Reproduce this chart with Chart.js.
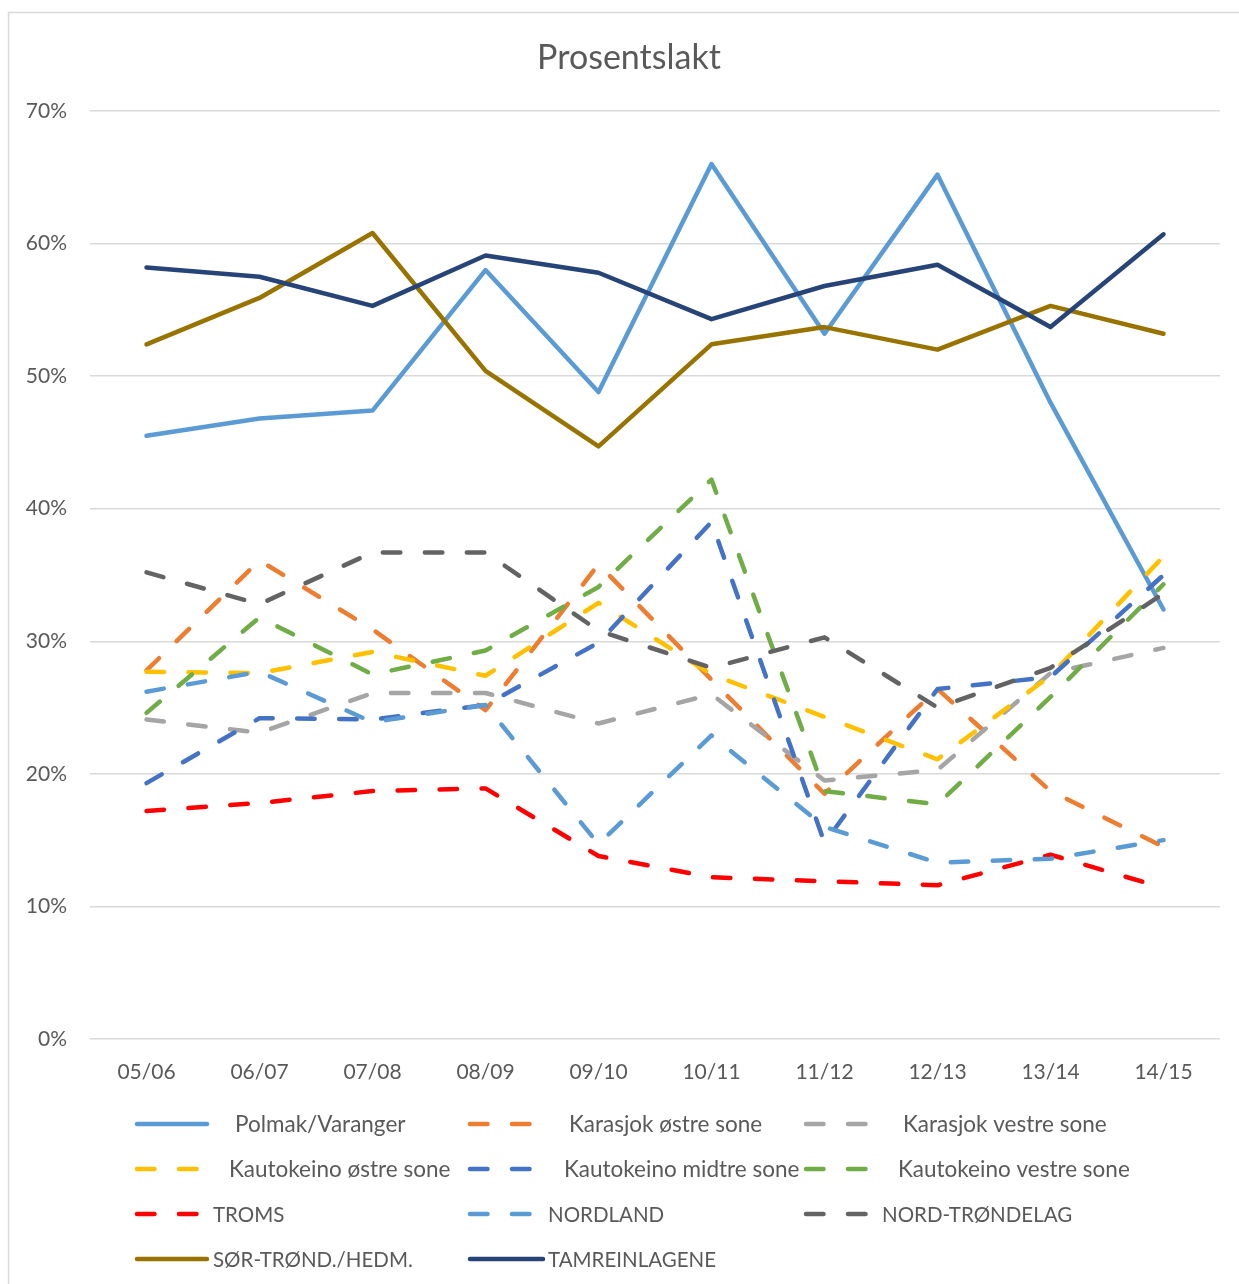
<!DOCTYPE html>
<html>
<head>
<meta charset="utf-8">
<script src="https://cdn.jsdelivr.net/npm/chart.js@4.4.1/dist/chart.umd.min.js"></script>
<style>
  html, body { margin: 0; padding: 0; background: #ffffff; }
  canvas { display: block; }
</style>
</head>
<body>
<canvas id="c" width="1239" height="1284"></canvas>
<script>
const categories = ['05/06','06/07','07/08','08/09','09/10','10/11','11/12','12/13','13/14','14/15'];
const polmakVaranger      = [45.5, 46.8, 47.4, 58.0, 48.8, 66.0, 53.2, 65.2, 48.0, 32.4];
const karasjokOstre       = [27.8, 36.1, 30.9, 24.8, 35.8, 27.1, 18.5, 26.4, 18.7, 14.5];
const karasjokVestre      = [24.1, 23.1, 26.1, 26.1, 23.8, 26.0, 19.5, 20.3, 27.6, 29.5];
const kautokeinoOstre     = [27.7, 27.6, 29.2, 27.4, 32.9, 27.5, 24.3, 21.1, 27.4, 36.4];
const kautokeinoMidtre    = [19.3, 24.2, 24.1, 25.2, 29.9, 39.0, 14.8, 26.4, 27.3, 35.0];
const kautokeinoVestre    = [24.6, 31.8, 27.5, 29.3, 34.1, 42.2, 18.7, 17.7, 25.8, 34.3];
const troms               = [17.2, 17.8, 18.7, 18.9, 13.8, 12.2, 11.9, 11.6, 13.9, 11.4];
const nordland            = [26.2, 27.7, 23.9, 25.2, 14.7, 22.9, 16.0, 13.3, 13.6, 15.0];
const nordTrondelag       = [35.2, 32.8, 36.7, 36.7, 30.8, 28.0, 30.3, 25.0, 28.0, 33.6];
const sorTrondHedm        = [52.4, 55.9, 60.8, 50.4, 44.7, 52.4, 53.7, 52.0, 55.3, 53.2];
const tamreinlagene       = [58.2, 57.5, 55.3, 59.1, 57.8, 54.3, 56.8, 58.4, 53.7, 60.7];
const yTicks = [0, 10, 20, 30, 40, 50, 60, 70];
const titleText = 'Prosentslakt';

const FONT = 'Lato, "Open Sans", sans-serif';
const TEXT = '#595959';
const DASH = [17.5, 24.5];

const seriesDefs = [
  { label: 'Polmak/Varanger', data: polmakVaranger, color: '#5B9BD5', dashed: false },
  { label: 'Karasjok østre sone', data: karasjokOstre, color: '#ED7D31', dashed: true },
  { label: 'Karasjok vestre sone', data: karasjokVestre, color: '#A5A5A5', dashed: true },
  { label: 'Kautokeino østre sone', data: kautokeinoOstre, color: '#FFC000', dashed: true },
  { label: 'Kautokeino midtre sone', data: kautokeinoMidtre, color: '#4472C4', dashed: true },
  { label: 'Kautokeino vestre sone', data: kautokeinoVestre, color: '#70AD47', dashed: true },
  { label: 'TROMS', data: troms, color: '#FF0000', dashed: true },
  { label: 'NORDLAND', data: nordland, color: '#5B9BD5', dashed: true },
  { label: 'NORD-TRØNDELAG', data: nordTrondelag, color: '#636363', dashed: true },
  { label: 'SØR-TRØND./HEDM.', data: sorTrondHedm, color: '#997300', dashed: false },
  { label: 'TAMREINLAGENE', data: tamreinlagene, color: '#264478', dashed: false }
];

// legend layout: [lineStart, lineEnd, textX, rowY, fontSize]
const legendPos = [
  [137, 207, 235, 1124, 22.5], [470, 540, 569, 1124, 22.5], [806, 870, 903, 1124, 22.5],
  [137, 207, 229, 1169, 22.5], [470, 540, 564, 1169, 22.5], [806, 870, 898, 1169, 22.5],
  [137, 203, 213, 1214, 20.5], [470, 537, 548, 1214, 20.5], [806, 870, 882, 1214, 20.5],
  [137, 207, 213, 1259, 20.5], [470, 543, 548, 1259, 20.5]
];

const datasets = seriesDefs.map((s, i) => ({
  label: s.label,
  data: s.data,
  borderColor: s.color,
  backgroundColor: s.color,
  borderWidth: 4.5,
  borderDash: s.dashed ? DASH : [],
  borderCapStyle: 'round',
  borderJoinStyle: 'round',
  pointRadius: 0,
  pointHoverRadius: 0,
  tension: 0,
  fill: false,
  order: seriesDefs.length - i
}));

const decorPlugin = {
  id: 'decor',
  beforeDraw(chart) {
    const ctx = chart.ctx;
    ctx.save();
    ctx.fillStyle = '#ffffff';
    ctx.fillRect(0, 0, chart.width, chart.height);
    ctx.strokeStyle = '#D9D9D9';
    ctx.lineWidth = 1.5;
    ctx.strokeRect(8.5, 12.5, chart.width + 20, chart.height + 20);
    ctx.restore();
  },
  afterDraw(chart) {
    const ctx = chart.ctx;
    ctx.save();
    ctx.fillStyle = TEXT;
    ctx.font = '34px ' + FONT;
    ctx.textAlign = 'center';
    ctx.textBaseline = 'middle';
    ctx.fillText(titleText, 629, 58);

    ctx.textAlign = 'left';
    chart.data.datasets.forEach((ds, i) => {
      const p = legendPos[i];
      ctx.beginPath();
      ctx.strokeStyle = ds.borderColor;
      ctx.lineWidth = 4.5;
      ctx.lineCap = 'round';
      ctx.setLineDash(ds.borderDash || []);
      ctx.moveTo(p[0], p[3]);
      ctx.lineTo(p[1], p[3]);
      ctx.stroke();
      ctx.setLineDash([]);
      ctx.fillStyle = TEXT;
      ctx.font = p[4] + 'px ' + FONT;
      ctx.fillText(ds.label, p[2], p[3] + 1);
    });
    ctx.restore();
  }
};

new Chart(document.getElementById('c'), {
  type: 'line',
  data: { labels: categories, datasets },
  options: {
    responsive: false,
    animation: false,
    events: [],
    layout: { padding: { left: 0, right: 19, top: 111, bottom: 195 } },
    plugins: { legend: { display: false }, title: { display: false }, tooltip: { enabled: false } },
    scales: {
      x: {
        type: 'category',
        offset: true,
        grid: { display: false, drawTicks: false },
        border: { display: false },
        ticks: { color: TEXT, font: { family: FONT, size: 21 }, padding: 21, maxRotation: 0, autoSkip: false },
        afterFit: (s) => { s.height = 50; }
      },
      y: {
        min: 0,
        max: 70,
        afterBuildTicks: (s) => { s.ticks = yTicks.map(v => ({ value: v })); },
        grid: { color: '#D9D9D9', lineWidth: 1.5, drawTicks: false },
        border: { display: false },
        ticks: { color: TEXT, font: { family: FONT, size: 21 }, padding: 23, callback: (v) => v + '%' },
        afterFit: (s) => { s.width = 90; }
      }
    }
  },
  plugins: [decorPlugin]
});
</script>
</body>
</html>
